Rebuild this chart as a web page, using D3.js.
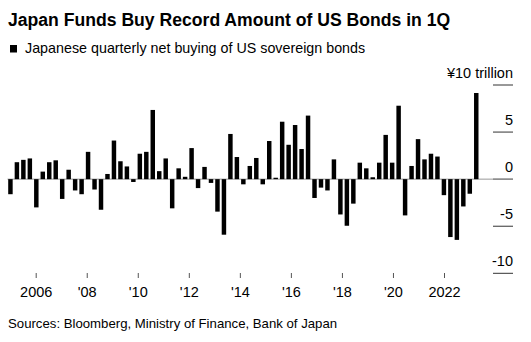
<!DOCTYPE html>
<html>
<head>
<meta charset="utf-8">
<script src="https://cdn.jsdelivr.net/npm/d3@7"></script>
<style>
  body { margin: 0; background: #fff; }
  svg text { font-family: "Liberation Sans", Arial, sans-serif; fill: #000; }
</style>
</head>
<body>
<div id="chart"></div>
<script>
// quarters 2005 Q1 .. 2023 Q1
const firstYear = 2005;
const quarters = [];
for (let y = firstYear; y <= 2023; y++) {
    for (let q = 1; q <= 4; q++) {
        if (y === 2023 && q > 1) break;
        quarters.push(y + "Q" + q);
    }
}

// net buying, trillion yen
const netBuying = [
    -1.6, 1.8, 2.05, 2.2,      // 2005
    -3.0, 0.8, 1.8, 2.0,       // 2006
    -2.1, 1.0, -1.2, -1.6,     // 2007
    2.9, -1.1, -3.25, 0.55,    // 2008
    4.1, 1.9, 1.35, -0.3,      // 2009
    2.7, 2.9, 7.35, 0.85,      // 2010
    2.2, -3.1, 1.15, 0.25,     // 2011
    3.3, -0.95, 1.3, -0.4,     // 2012
    -3.45, -5.9, 4.8, 2.35,    // 2013
    -0.55, 1.4, 2.25, -0.55,   // 2014
    4.05, 0.15, 6.1, 3.65,     // 2015
    5.75, 3.2, 6.75, -2.0,     // 2016
    -0.9, -1.2, 2.1, -3.75,    // 2017
    -4.95, -2.6, 1.75, 1.15,   // 2018
    0.2, 1.75, 4.7, 1.75,      // 2019
    7.8, -3.85, 1.4, 4.25,     // 2020
    2.1, 2.7, 2.4, -1.7,       // 2021
    -6.15, -6.45, -2.9, -1.55, // 2022
    9.15                       // 2023
];

const tickYears = [2006, 2008, 2010, 2012, 2014, 2016, 2018, 2020, 2022];
const tickLabels = ["2006", "'08", "'10", "'12", "'14", "'16", "'18", "'20", "2022"];
const yTicks = [10, 5, 0, -5, -10];
const yTickLabels = ["¥10 trillion", "5", "0", "-5", "-10"];

const data = quarters.map((q, i) => ({ q: q, v: netBuying[i] }));

const width = 531, height = 342;

const svg = d3.select("#chart").append("svg")
    .attr("width", width)
    .attr("height", height);

// titles
svg.append("text")
    .attr("x", 8).attr("y", 26)
    .style("font-size", "17.6px")
    .style("font-weight", "bold")
    .text("Japan Funds Buy Record Amount of US Bonds in 1Q");

svg.append("rect")
    .attr("x", 10).attr("y", 45)
    .attr("width", 7).attr("height", 7.5)
    .attr("fill", "#000");

svg.append("text")
    .attr("x", 25).attr("y", 53)
    .style("font-size", "14.3px")
    .text("Japanese quarterly net buying of US sovereign bonds");

// scales
const x = d3.scaleBand()
    .domain(quarters)
    .range([7.2, 479.5])
    .paddingInner(0.31)
    .paddingOuter(0.155);

const yearX = d3.scaleLinear()
    .domain([2006, 2022])
    .range([35.7, 444]);

const y = d3.scaleLinear()
    .domain([-10, 10])
    .range([273.3, 85]);

// right side ticks
const yAxis = svg.append("g");
yAxis.selectAll("line")
    .data(yTicks)
    .join("line")
    .attr("x1", 493).attr("x2", 513)
    .attr("y1", d => y(d)).attr("y2", d => y(d))
    .attr("stroke", "#333")
    .attr("stroke-width", 1);
yAxis.selectAll("text")
    .data(yTicks)
    .join("text")
    .attr("x", 513)
    .attr("y", d => y(d) - 7)
    .attr("text-anchor", "end")
    .style("font-size", "14.5px")
    .text((d, i) => yTickLabels[i]);

// zero line
svg.append("line")
    .attr("x1", 7.5).attr("x2", 513)
    .attr("y1", y(0)).attr("y2", y(0))
    .attr("stroke", "#999")
    .attr("stroke-width", 1);

// bars
svg.append("g")
    .selectAll("rect")
    .data(data)
    .join("rect")
    .attr("x", d => x(d.q))
    .attr("width", x.bandwidth())
    .attr("y", d => y(Math.max(0, d.v)))
    .attr("height", d => Math.abs(y(d.v) - y(0)))
    .attr("fill", "#000");

// x axis
const xAxis = svg.append("g")
    .attr("transform", "translate(0,273)")
    .call(d3.axisBottom(yearX)
        .tickValues(tickYears)
        .tickFormat((d, i) => tickLabels[i])
        .tickSize(5)
        .tickPadding(9));
xAxis.select(".domain").remove();
xAxis.selectAll("line").attr("stroke", "#555");
xAxis.selectAll("text")
    .style("font-family", "'Liberation Sans', Arial, sans-serif")
    .style("font-size", "14.5px")
    .attr("fill", "#000");

// source
svg.append("text")
    .attr("x", 8).attr("y", 328)
    .style("font-size", "13.2px")
    .text("Sources: Bloomberg, Ministry of Finance, Bank of Japan");
</script>
</body>
</html>
